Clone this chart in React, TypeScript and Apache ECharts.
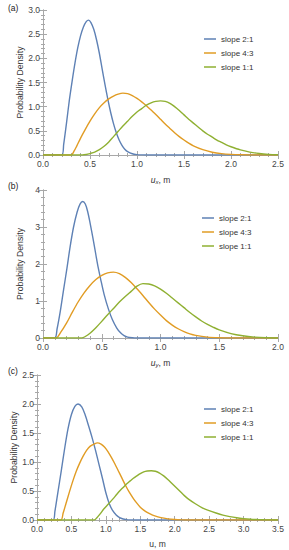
import React, { useEffect, useRef } from "react";
import * as echarts from "echarts";

const FONT = "Liberation Sans, Arial, sans-serif";
const seriesNames = ["slope 2:1", "slope 4:3", "slope 1:1"];
const seriesColors = ["#5E81B5", "#E19C24", "#8FB032"];

// Panel (a): u_x
const aBlue = [[0,0],[0.2,0],[0.22,0.22],[0.25,0.66],[0.28,1.13],[0.31,1.53],[0.34,1.9],[0.37,2.22],[0.4,2.47],[0.43,2.65],[0.46,2.76],[0.485,2.79],[0.51,2.74],[0.54,2.6],[0.57,2.38],[0.6,2.1],[0.63,1.77],[0.66,1.45],[0.69,1.15],[0.72,0.88],[0.75,0.65],[0.78,0.46],[0.81,0.31],[0.84,0.2],[0.87,0.12],[0.9,0.07],[0.95,0.025],[1.0,0.008],[1.05,0.002],[1.1,0],[2.5,0]];
const aOrange = [[0,0],[0.3,0],[0.33,0.08],[0.36,0.19],[0.4,0.35],[0.45,0.53],[0.5,0.7],[0.55,0.85],[0.6,0.98],[0.65,1.08],[0.7,1.16],[0.75,1.22],[0.8,1.26],[0.85,1.28],[0.9,1.27],[0.95,1.23],[1.0,1.17],[1.05,1.1],[1.1,1.02],[1.15,0.93],[1.2,0.84],[1.25,0.74],[1.3,0.64],[1.35,0.55],[1.4,0.46],[1.45,0.38],[1.5,0.31],[1.55,0.245],[1.6,0.19],[1.7,0.11],[1.8,0.058],[1.9,0.028],[2.0,0.012],[2.1,0.004],[2.2,0.001],[2.3,0],[2.5,0]];
const aGreen = [[0,0],[0.42,0],[0.46,0.01],[0.5,0.03],[0.55,0.06],[0.6,0.11],[0.65,0.18],[0.7,0.27],[0.75,0.38],[0.8,0.49],[0.85,0.6],[0.9,0.7],[0.95,0.8],[1.0,0.89],[1.05,0.96],[1.1,1.03],[1.15,1.08],[1.2,1.11],[1.25,1.12],[1.3,1.11],[1.35,1.07],[1.4,1.0],[1.45,0.92],[1.5,0.83],[1.55,0.74],[1.6,0.66],[1.65,0.58],[1.7,0.5],[1.75,0.43],[1.8,0.37],[1.85,0.31],[1.9,0.26],[1.95,0.21],[2.0,0.17],[2.1,0.105],[2.2,0.06],[2.3,0.03],[2.4,0.013],[2.5,0.005]];

// Panel (b): u_y
const bBlue = [[0,0],[0.1,0],[0.12,0.25],[0.147,0.72],[0.175,1.3],[0.204,1.89],[0.23,2.45],[0.26,3.0],[0.29,3.4],[0.315,3.62],[0.338,3.69],[0.36,3.62],[0.38,3.42],[0.4,3.12],[0.425,2.7],[0.45,2.25],[0.47,1.9],[0.49,1.6],[0.52,1.18],[0.557,0.78],[0.59,0.5],[0.628,0.27],[0.66,0.14],[0.69,0.065],[0.72,0.025],[0.76,0.006],[0.8,0],[2.0,0]];
const bOrange = [[0,0],[0.11,0],[0.15,0.15],[0.2,0.4],[0.25,0.7],[0.3,0.98],[0.35,1.22],[0.4,1.42],[0.45,1.58],[0.5,1.69],[0.55,1.76],[0.6,1.78],[0.65,1.74],[0.7,1.64],[0.75,1.5],[0.8,1.33],[0.85,1.15],[0.9,0.96],[0.95,0.78],[1.0,0.62],[1.05,0.47],[1.1,0.35],[1.15,0.25],[1.2,0.17],[1.25,0.11],[1.3,0.07],[1.4,0.025],[1.5,0.007],[1.6,0],[2.0,0]];
const bGreen = [[0,0],[0.331,0],[0.36,0.04],[0.4,0.13],[0.45,0.28],[0.5,0.45],[0.55,0.63],[0.6,0.8],[0.65,0.97],[0.7,1.12],[0.75,1.26],[0.8,1.4],[0.85,1.47],[0.9,1.46],[0.95,1.41],[1.0,1.32],[1.05,1.21],[1.1,1.08],[1.15,0.95],[1.2,0.82],[1.25,0.69],[1.3,0.57],[1.35,0.46],[1.4,0.37],[1.45,0.29],[1.5,0.22],[1.6,0.12],[1.7,0.06],[1.8,0.025],[1.9,0.008],[2.0,0.002]];

// Panel (c): u
const cBlue = [[0,0],[0.233,0],[0.26,0.15],[0.3,0.45],[0.354,0.86],[0.4,1.22],[0.45,1.57],[0.5,1.82],[0.55,1.96],[0.596,2.0],[0.65,1.95],[0.7,1.81],[0.75,1.62],[0.8,1.42],[0.85,1.2],[0.9,0.96],[0.95,0.72],[1.0,0.47],[1.05,0.28],[1.1,0.16],[1.15,0.085],[1.2,0.04],[1.25,0.018],[1.3,0.007],[1.35,0.002],[1.4,0],[3.5,0]];
const cOrange = [[0,0],[0.344,0],[0.38,0.12],[0.42,0.28],[0.47,0.48],[0.52,0.67],[0.57,0.84],[0.62,0.98],[0.67,1.1],[0.72,1.2],[0.77,1.27],[0.83,1.31],[0.877,1.33],[0.93,1.31],[0.98,1.26],[1.03,1.18],[1.08,1.08],[1.13,0.97],[1.18,0.85],[1.23,0.73],[1.284,0.6],[1.34,0.48],[1.4,0.37],[1.45,0.29],[1.5,0.22],[1.55,0.17],[1.6,0.13],[1.65,0.1],[1.7,0.075],[1.8,0.04],[1.9,0.02],[2.0,0.009],[2.1,0.003],[2.2,0],[3.5,0]];
const cGreen = [[0,0],[0.83,0],[0.87,0.04],[0.92,0.11],[0.97,0.19],[1.04,0.28],[1.1,0.36],[1.15,0.43],[1.2,0.5],[1.25,0.56],[1.3,0.62],[1.35,0.67],[1.4,0.72],[1.45,0.76],[1.5,0.8],[1.55,0.83],[1.6,0.845],[1.66,0.85],[1.72,0.84],[1.78,0.81],[1.84,0.76],[1.9,0.7],[1.96,0.63],[2.02,0.56],[2.08,0.49],[2.14,0.42],[2.2,0.36],[2.3,0.28],[2.4,0.21],[2.5,0.16],[2.6,0.12],[2.7,0.085],[2.8,0.058],[2.9,0.038],[3.0,0.024],[3.1,0.014],[3.2,0.008],[3.3,0.004],[3.4,0.002],[3.5,0]];

const xMaxes = [2.5, 2.0, 3.5];
const yMaxes = [3.0, 4, 2.5];
const yIntervals = [0.5, 1, 0.5];
const yDecimals = [1, 0, 1];
const panelLabels = ["(a)", "(b)", "(c)"];
const xTitles = ["{i|u}{s|x}{n|, m}", "{i|u}{s|y}{n|, m}", "{n|u, m}"];

const layout = [
  { left: 43, top: 10, width: 235, height: 145, labelTop: 3, legendTop: 30, yNameGap: 18.5 },
  { left: 43, top: 190, width: 235, height: 148, labelTop: 181, legendTop: 209, yNameGap: 18.5 },
  { left: 37, top: 375, width: 241, height: 145, labelTop: 366, legendTop: 400, yNameGap: 18.5 },
];

export default function App() {
  const ref = useRef<HTMLDivElement>(null);
  useEffect(() => {
    if (!ref.current) return;
    const chart = echarts.init(ref.current, null, { renderer: "svg" });
    const frame = "#a8a8a8";
    const tickCommon = (show: boolean) => ({
      axisLine: { show: true, lineStyle: { color: frame, width: 1 } },
      axisTick: { show: true, inside: true, length: 4, lineStyle: { color: frame } },
      minorTick: { show: true, splitNumber: 5, length: 2, lineStyle: { color: frame } },
      splitLine: { show: false },
      minorSplitLine: { show: false },
      axisLabel: { show, fontSize: 8.5, color: "#444", fontFamily: FONT },
    });
    const panelData = [
      [aBlue, aOrange, aGreen],
      [bBlue, bOrange, bGreen],
      [cBlue, cOrange, cGreen],
    ];
    const grid: any[] = [];
    const xAxis: any[] = [];
    const yAxis: any[] = [];
    const series: any[] = [];
    const legend: any[] = [];
    const graphic: any[] = [];
    layout.forEach((L, i) => {
      grid.push({ left: L.left, top: L.top, width: L.width, height: L.height });
      xAxis.push({
        type: "value", gridIndex: i, position: "bottom", min: 0, max: xMaxes[i], interval: 0.5,
        ...tickCommon(true),
        axisLabel: { show: true, fontSize: 8.5, color: "#444", fontFamily: FONT, margin: 4, formatter: (v: number) => v.toFixed(1) },
        name: xTitles[i], nameLocation: "middle", nameGap: 19,
        nameTextStyle: {
          fontSize: 8.5, color: "#333", fontFamily: FONT,
          rich: {
            i: { fontSize: 8.5, fontStyle: "italic", color: "#333", fontFamily: FONT },
            s: { fontSize: 6, fontStyle: "italic", color: "#333", fontFamily: FONT, padding: [5, 0, 0, 0] },
            n: { fontSize: 8.5, color: "#333", fontFamily: FONT },
          },
        },
      });
      xAxis.push({
        type: "value", gridIndex: i, position: "top", min: 0, max: xMaxes[i], interval: 0.5,
        ...tickCommon(false),
      });
      yAxis.push({
        type: "value", gridIndex: i, position: "left", min: 0, max: yMaxes[i], interval: yIntervals[i],
        ...tickCommon(true),
        axisLabel: { show: true, fontSize: 8.5, color: "#444", fontFamily: FONT, margin: 3, formatter: (v: number) => v.toFixed(yDecimals[i]) },
        name: "Probability Density", nameLocation: "middle", nameGap: L.yNameGap, nameMoveOverlap: false,
        nameTextStyle: { fontSize: 8.7, color: "#333", fontFamily: FONT },
      });
      yAxis.push({
        type: "value", gridIndex: i, position: "right", min: 0, max: yMaxes[i], interval: yIntervals[i],
        ...tickCommon(false),
      });
      panelData[i].forEach((d, k) => {
        series.push({
          type: "line", name: seriesNames[k], xAxisIndex: 2 * i, yAxisIndex: 2 * i,
          data: d, showSymbol: false, smooth: 0.3,
          lineStyle: { color: seriesColors[k], width: 1.4 },
          itemStyle: { color: seriesColors[k] },
          z: 2 + k,
        });
      });
      legend.push({
        orient: "vertical", left: i === 1 ? 197 : 199, top: L.legendTop,
        data: seriesNames, icon: "rect", itemWidth: 12, itemHeight: 1.5, itemGap: 6,
        selectedMode: false,
        textStyle: { fontSize: 8, color: "#333", fontFamily: FONT },
      });
      graphic.push({
        type: "text", left: 8, top: L.labelTop,
        style: { text: panelLabels[i], fontSize: 8.5, fill: "#222", fontFamily: FONT },
      });
    });
    chart.setOption({
      animation: false,
      backgroundColor: "#ffffff",
      grid, xAxis, yAxis, series, legend, graphic,
    });
    return () => chart.dispose();
  }, []);
  return <div ref={ref} style={{ position: "fixed", left: 0, top: 0, width: 289, height: 550 }} />;
}
